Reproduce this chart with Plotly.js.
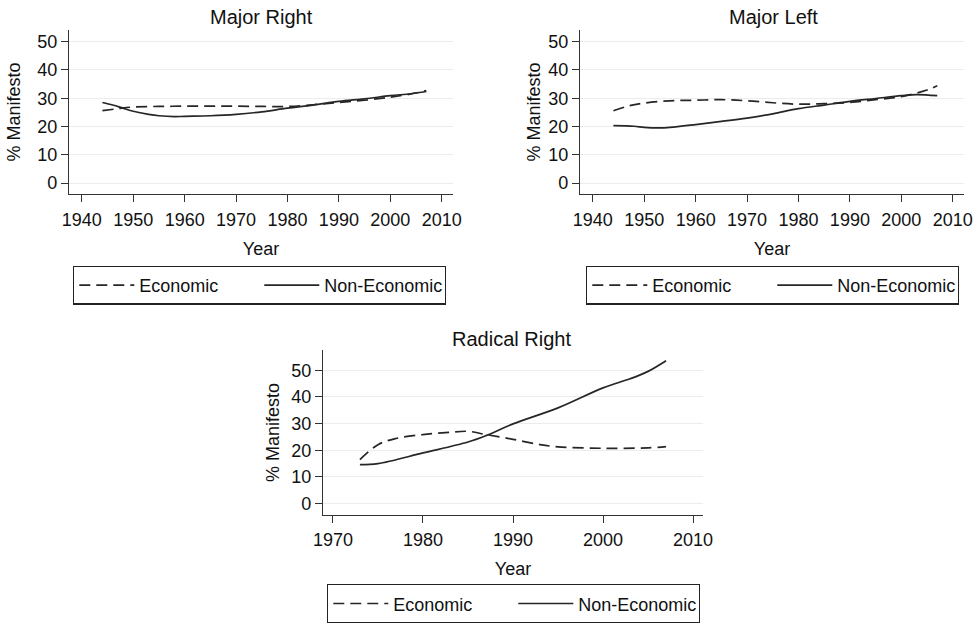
<!DOCTYPE html>
<html>
<head>
<meta charset="utf-8">
<script src="https://cdn.plot.ly/plotly-3.0.1.min.js"></script>
<style>
html,body{margin:0;padding:0;background:#fff;}
#chart{width:974px;height:623px;}
</style>
</head>
<body>
<div id="chart"></div>
<script>
// ---- Data ----
const panelTitles = ["Major Right", "Major Left", "Radical Right"];
const seriesNames = ["Economic", "Non-Economic"];

const mrEconYears = [1944,1947,1950,1955,1960,1965,1970,1975,1980,1985,1990,1995,2000,2004,2007];
const mrEconVals  = [25.6,26.3,26.9,27.1,27.2,27.2,27.2,27.1,27.1,27.7,28.5,29.3,30.4,31.5,32.7];
const mrNonYears  = [1944,1946,1948,1950,1953,1955,1958,1960,1965,1970,1975,1980,1985,1990,1995,2000,2004,2007];
const mrNonVals   = [28.5,27.6,26.5,25.4,24.3,23.8,23.5,23.6,23.8,24.3,25.2,26.5,27.6,28.9,29.8,30.9,31.6,32.4];

const mlEconYears = [1944,1947,1950,1955,1960,1965,1970,1975,1980,1985,1990,1995,2000,2005,2007];
const mlEconVals  = [25.6,27.3,28.3,29.1,29.3,29.5,29.1,28.4,27.9,28.1,28.5,29.5,30.6,32.9,34.4];
const mlNonYears  = [1944,1948,1950,1953,1955,1960,1965,1970,1975,1980,1985,1990,1995,2000,2003,2007];
const mlNonVals   = [20.3,20.1,19.7,19.5,19.7,20.7,21.8,23.0,24.5,26.3,27.6,28.9,29.9,30.9,31.3,30.9];

const rrEconYears = [1973,1975,1977,1980,1983,1985,1987,1990,1993,1995,2000,2005,2007];
const rrEconVals  = [16.5,22.1,24.4,25.9,26.75,27.1,25.9,24.1,22.1,21.3,20.75,20.9,21.4];
const rrNonYears  = [1973,1975,1980,1985,1987,1990,1995,2000,2003,2005,2007];
const rrNonVals   = [14.6,15.0,19.0,23.1,25.5,29.9,35.9,43.4,46.8,49.6,53.6];

const xTicksMajor = [1940,1950,1960,1970,1980,1990,2000,2010];
const xTicksRadical = [1970,1980,1990,2000,2010];
const yTicks = [0,10,20,30,40,50];
const xTitle = "Year";
const yTitle = "% Manifesto";

// ---- Styling helpers ----
const W = 974, H = 623;
const FONT = "Liberation Sans, Arial, Helvetica, sans-serif";
const INK = "#111";
const px = v => v / W;
const py = v => 1 - v / H;

function mk(x, y, name, xa, ya, leg, dashed) {
  return {
    x: x, y: y, name: name, type: "scatter", mode: "lines",
    xaxis: xa, yaxis: ya, legend: leg, showlegend: true,
    line: {color: "#262626", width: 1.7, shape: "spline", smoothing: 1,
           dash: dashed ? "11px,6px" : "solid"},
    hoverinfo: "x+y+name"
  };
}

const data = [
  mk(mrEconYears, mrEconVals, seriesNames[0], "x", "y", "legend", true),
  mk(mrNonYears, mrNonVals, seriesNames[1], "x", "y", "legend", false),
  mk(mlEconYears, mlEconVals, seriesNames[0], "x2", "y2", "legend2", true),
  mk(mlNonYears, mlNonVals, seriesNames[1], "x2", "y2", "legend2", false),
  mk(rrEconYears, rrEconVals, seriesNames[0], "x3", "y3", "legend3", true),
  mk(rrNonYears, rrNonVals, seriesNames[1], "x3", "y3", "legend3", false)
];

function xax(domain, range, ticks, anchor) {
  return {
    domain: domain, range: range, anchor: anchor, automargin: false,
    tickmode: "array", tickvals: ticks, ticktext: ticks.map(String),
    ticks: "outside", ticklen: 7, tickwidth: 1.3, tickcolor: "#333",
    ticklabelstandoff: 2,
    showline: true, linecolor: "#333", linewidth: 1.3, mirror: false,
    showgrid: false, zeroline: false,
    tickfont: {family: FONT, size: 18, color: INK},
    title: {text: xTitle, font: {family: FONT, size: 18, color: INK}, standoff: 13}
  };
}
function yax(domain, range, anchor, standoff) {
  return {
    domain: domain, range: range, anchor: anchor, automargin: false,
    tickmode: "array", tickvals: yTicks, ticktext: yTicks.map(String),
    ticks: "outside", ticklen: 7, tickwidth: 1.3, tickcolor: "#333",
    showline: true, linecolor: "#333", linewidth: 1.3, mirror: false,
    showgrid: true, gridcolor: "#ececec", gridwidth: 1, zeroline: false,
    tickfont: {family: FONT, size: 18, color: INK},
    title: {text: yTitle, font: {family: FONT, size: 18, color: INK}, standoff: standoff}
  };
}
function leg(left, top) {
  return {
    orientation: "h", x: px(left), y: py(top), xanchor: "left", yanchor: "top",
    bordercolor: "#222", borderwidth: 1.3, bgcolor: "#fff",
    font: {family: FONT, size: 18, color: INK},
    entrywidth: 115, entrywidthmode: "pixels", itemwidth: 55,
    traceorder: "normal"
  };
}

const layout = {
  width: W, height: H,
  margin: {l: 0, r: 0, t: 0, b: 0},
  paper_bgcolor: "#fff", plot_bgcolor: "#fff",
  font: {family: FONT, color: INK},
  xaxis:  xax([px(69), px(453)], [1937.5, 2012.2], xTicksMajor, "y"),
  yaxis:  yax([py(195), py(30)], [-3.9, 54.2], "x", 11),
  xaxis2: xax([px(580), px(964)], [1937.5, 2012.2], xTicksMajor, "y2"),
  yaxis2: yax([py(195), py(30)], [-3.9, 54.2], "x2", 2),
  xaxis3: xax([px(323), px(703)], [1968.9, 2011.1], xTicksRadical, "y3"),
  yaxis3: yax([py(517), py(352)], [-4.1, 57.5], "x3", 6),
  legend:  leg(73, 267),
  legend2: leg(586, 267),
  legend3: leg(327, 587),
  annotations: [
    {text: panelTitles[0], x: px(261), y: py(17), xref: "paper", yref: "paper",
     xanchor: "center", yanchor: "middle", showarrow: false, font: {family: FONT, size: 20, color: INK}},
    {text: panelTitles[1], x: px(773), y: py(17), xref: "paper", yref: "paper",
     xanchor: "center", yanchor: "middle", showarrow: false, font: {family: FONT, size: 20, color: INK}},
    {text: panelTitles[2], x: px(511), y: py(341), xref: "paper", yref: "paper",
     xanchor: "center", yanchor: "middle", showarrow: false, font: {family: FONT, size: 20, color: INK}}
  ],
  showlegend: true
};

Plotly.newPlot("chart", data, layout, {displayModeBar: false});
</script>
</body>
</html>
